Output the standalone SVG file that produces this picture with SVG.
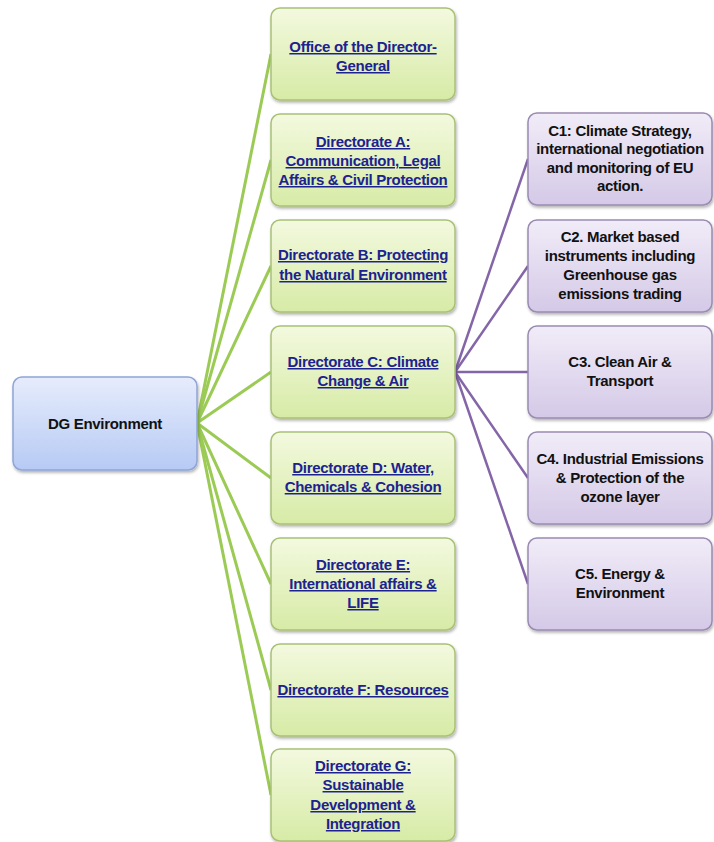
<svg xmlns="http://www.w3.org/2000/svg" width="714" height="842" viewBox="0 0 714 842">
<defs>
<linearGradient id="gG" x1="0" y1="0" x2="0" y2="1"><stop offset="0" stop-color="#F3F9DF"/><stop offset="1" stop-color="#D7EBA6"/></linearGradient>
<linearGradient id="gP" x1="0" y1="0" x2="0" y2="1"><stop offset="0" stop-color="#F1ECF8"/><stop offset="1" stop-color="#D4C9E7"/></linearGradient>
<linearGradient id="gB" x1="0" y1="0" x2="0" y2="1"><stop offset="0" stop-color="#E6ECFC"/><stop offset="1" stop-color="#B7CAF4"/></linearGradient>
<filter id="sh" x="-10%" y="-10%" width="125%" height="130%"><feDropShadow dx="1" dy="2" stdDeviation="1.5" flood-color="#000" flood-opacity="0.3"/></filter>
<style>
.g{fill:url(#gG);stroke:#A9C177;stroke-width:1.5;filter:url(#sh)}
.p{fill:url(#gP);stroke:#9A8BB2;stroke-width:1.5;filter:url(#sh)}
.b{fill:url(#gB);stroke:#8FA5D6;stroke-width:1.5;filter:url(#sh)}
text{font-family:"Liberation Sans",Arial,sans-serif;font-weight:bold;font-size:15px;text-anchor:middle;letter-spacing:-0.3px}
.lk{fill:#1C2290;text-decoration:underline}
.bk{fill:#111}
.cg line{stroke:#9BCB55;stroke-width:3}
.cp line{stroke:#8466A8;stroke-width:2.5}
</style>
</defs>
<g id="connectors">
<g class="cg">
<line x1="197" y1="423" x2="271" y2="54"/>
<line x1="197" y1="423" x2="271" y2="160"/>
<line x1="197" y1="423" x2="271" y2="266"/>
<line x1="197" y1="423" x2="271" y2="372"/>
<line x1="197" y1="423" x2="271" y2="478"/>
<line x1="197" y1="423" x2="271" y2="584"/>
<line x1="197" y1="423" x2="271" y2="690"/>
<line x1="197" y1="423" x2="271" y2="795"/>
</g>
<g class="cp">
<line x1="455" y1="372" x2="528" y2="159"/>
<line x1="455" y1="372" x2="528" y2="266"/>
<line x1="455" y1="372" x2="528" y2="372"/>
<line x1="455" y1="372" x2="528" y2="478"/>
<line x1="455" y1="372" x2="528" y2="584"/>
</g>
</g>
<g id="dg"><rect class="b" x="13" y="377" width="184" height="93" rx="9"/><text class="bk" x="105" y="429">DG Environment</text></g>
<g id="office"><rect class="g" x="271" y="8" width="184" height="92" rx="9"/><text class="lk" x="363" y="52">Office of the Director-</text><text class="lk" x="363" y="71">General</text></g>
<g id="dirA"><rect class="g" x="271" y="114" width="184" height="92" rx="9"/><text class="lk" x="363" y="147">Directorate A:</text><text class="lk" x="363" y="166">Communication, Legal</text><text class="lk" x="363" y="185">Affairs &amp; Civil Protection</text></g>
<g id="dirB"><rect class="g" x="271" y="220" width="184" height="92" rx="9"/><text class="lk" x="363" y="260">Directorate B: Protecting</text><text class="lk" x="363" y="280">the Natural Environment</text></g>
<g id="dirC"><rect class="g" x="271" y="326" width="184" height="92" rx="9"/><text class="lk" x="363" y="367">Directorate C: Climate</text><text class="lk" x="363" y="386">Change &amp; Air</text></g>
<g id="dirD"><rect class="g" x="271" y="432" width="184" height="92" rx="9"/><text class="lk" x="363" y="473">Directorate D: Water,</text><text class="lk" x="363" y="492">Chemicals &amp; Cohesion</text></g>
<g id="dirE"><rect class="g" x="271" y="538" width="184" height="92" rx="9"/><text class="lk" x="363" y="570">Directorate E:</text><text class="lk" x="363" y="589">International affairs &amp;</text><text class="lk" x="363" y="608">LIFE</text></g>
<g id="dirF"><rect class="g" x="271" y="644" width="184" height="92" rx="9"/><text class="lk" x="363" y="695">Directorate F: Resources</text></g>
<g id="dirG"><rect class="g" x="271" y="749" width="184" height="92" rx="9"/><text class="lk" x="363" y="771">Directorate G:</text><text class="lk" x="363" y="790">Sustainable</text><text class="lk" x="363" y="810">Development &amp;</text><text class="lk" x="363" y="829">Integration</text></g>
<g id="c1"><rect class="p" x="528" y="113" width="184" height="92" rx="9"/><text class="bk" x="620" y="136">C1: Climate Strategy,</text><text class="bk" x="620" y="154">international negotiation</text><text class="bk" x="620" y="173">and monitoring of EU</text><text class="bk" x="620" y="191">action.</text></g>
<g id="c2"><rect class="p" x="528" y="220" width="184" height="92" rx="9"/><text class="bk" x="620" y="242">C2. Market based</text><text class="bk" x="620" y="261">instruments including</text><text class="bk" x="620" y="280">Greenhouse gas</text><text class="bk" x="620" y="299">emissions trading</text></g>
<g id="c3"><rect class="p" x="528" y="326" width="184" height="92" rx="9"/><text class="bk" x="620" y="367">C3. Clean Air &amp;</text><text class="bk" x="620" y="386">Transport</text></g>
<g id="c4"><rect class="p" x="528" y="432" width="184" height="92" rx="9"/><text class="bk" x="620" y="464">C4. Industrial Emissions</text><text class="bk" x="620" y="483">&amp; Protection of the</text><text class="bk" x="620" y="502">ozone layer</text></g>
<g id="c5"><rect class="p" x="528" y="538" width="184" height="92" rx="9"/><text class="bk" x="620" y="579">C5. Energy &amp;</text><text class="bk" x="620" y="598">Environment</text></g>
</svg>
